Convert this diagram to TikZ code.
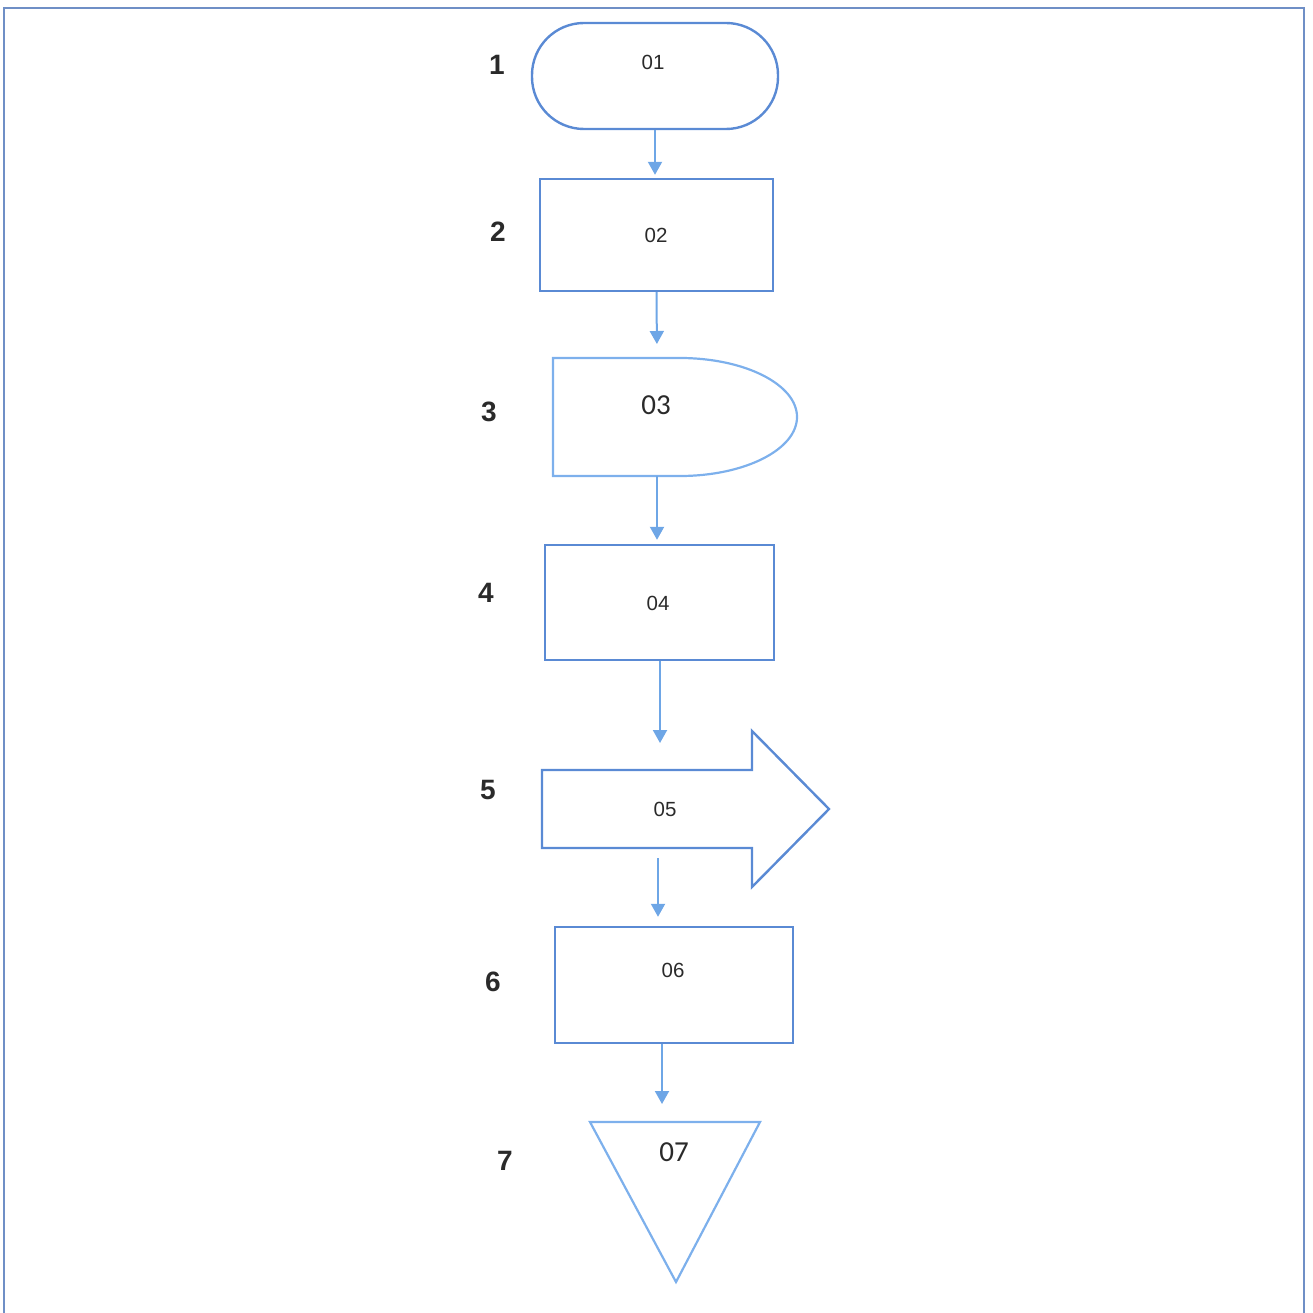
\documentclass[tikz,border=0pt]{standalone}
\usepackage{fontspec}
\setmainfont{Liberation Sans}
\newfontfamily\calib{Carlito}
\usetikzlibrary{arrows.meta}
\definecolor{boxblue}{HTML}{5A8AD4}
\definecolor{lightblue}{HTML}{7DB0EC}
\definecolor{arrblue}{HTML}{6EA6E6}
\definecolor{frameblue}{HTML}{6F8FC6}
\definecolor{txt}{HTML}{2A2A2A}
\begin{document}
\begin{tikzpicture}[x=1pt,y=-1pt,
  box/.style={draw=boxblue,line width=2.4pt,inner sep=0pt},
  lbox/.style={draw=lightblue,line width=2.2pt},
  conn/.style={draw=arrblue,line width=2pt,-{Triangle[width=14pt,length=13pt]}},
  numlab/.style={font=\fontsize{28}{32}\selectfont\bfseries,text=txt},
  intext/.style={font=\fontsize{20.5}{24}\selectfont,text=txt},
  bigtext/.style={font=\calib\fontsize{29}{34}\selectfont,text=txt}]
\useasboundingbox (0,0) rectangle (1313,1313);
% frame
\draw[frameblue,line width=2pt] (4,1313) -- (4,8) -- (1304,8) -- (1304,1313);

% 1 terminator
\node[box,rounded corners=52pt,minimum width=246pt,minimum height=106pt] (b1) at (655,76) {};
\node[intext] (t1) at (653,62) {01};
\node[numlab] (l1) at (497,65) {1};

% 2 rectangle
\node[box,minimum width=233pt,minimum height=112pt] (b2) at (656.5,235) {};
\node[intext] (t2) at (656,235) {02};
\node[numlab] (l2) at (498,232) {2};

% 3 delay
\draw[lbox] (553,358) -- (680,358) arc[start angle=90,end angle=-90,x radius=117pt,y radius=59pt] -- (553,476) -- cycle;
\coordinate (b3n) at (657,358);
\coordinate (b3s) at (657,476);
\node[bigtext] (t3) at (656,405) {03};
\node[numlab] (l3) at (489,412) {3};

% 4 rectangle
\node[box,minimum width=229pt,minimum height=115pt] (b4) at (659.5,602.5) {};
\node[intext] (t4) at (658,603) {04};
\node[numlab] (l4) at (486,593) {4};

% 5 block arrow
\draw[box] (542,770) -- (752,770) -- (752,731) -- (829,809) -- (752,887) -- (752,848) -- (542,848) -- cycle;
\coordinate (b5in) at (660,743);
\coordinate (b5out) at (658,858);
\node[intext] (t5) at (665,809) {05};
\node[numlab] (l5) at (488,790) {5};

% 6 rectangle
\node[box,minimum width=238pt,minimum height=116pt] (b6) at (674,985) {};
\node[intext] (t6) at (673,970) {06};
\node[numlab] (l6) at (493,982) {6};

% 7 triangle
\draw[lbox] (590,1122) -- (760,1122) -- (676,1282) -- cycle;
\coordinate (b7n) at (662,1122);
\node[bigtext] (t7) at (674,1152) {07};
\node[numlab] (l7) at (505,1161) {7};

% connectors
\draw[conn,shorten >=3pt] (b1.south) -- (b1.south |- b2.north);
\draw[conn,shorten >=14pt] (b2.south) -- (b3n);
\draw[conn,shorten >=4pt] (b3s) -- (b3s |- b4.north);
\draw[conn] (b4.south -| b5in) -- (b5in);
\draw[conn,shorten >=9pt] (b5out) -- (b5out |- b6.north);
\draw[conn,shorten >=18pt] (b6.south -| b7n) -- (b7n);
\end{tikzpicture}
\end{document}
